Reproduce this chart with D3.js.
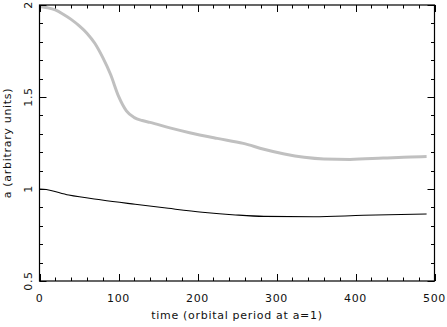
<!DOCTYPE html>
<html><head><meta charset="utf-8">
<script src="https://cdn.jsdelivr.net/npm/d3@7"></script>
<style>
html,body{margin:0;padding:0;background:#fff;}
svg{display:block;}
text{font-family:"DejaVu Sans",sans-serif;font-size:11px;fill:#111;}
.lab{letter-spacing:0.7px;}
</style></head>
<body>
<svg id="chart" width="447" height="327"></svg>
<script>
const grayTime = [0, 10, 20, 30, 40, 50, 60, 70, 80, 90, 100, 110, 120, 130, 140, 165, 190, 225, 258, 284, 310, 335, 360, 393, 435, 470, 490];
const grayA    = [1.992, 1.985, 1.973, 1.95, 1.922, 1.888, 1.847, 1.792, 1.715, 1.622, 1.505, 1.425, 1.388, 1.372, 1.362, 1.332, 1.306, 1.275, 1.248, 1.216, 1.19, 1.172, 1.163, 1.161, 1.168, 1.174, 1.176];
const blackTime = [0, 5, 37, 79, 121, 163, 206, 248, 284, 347, 410, 490];
const blackA    = [1.0, 0.999, 0.967, 0.94, 0.917, 0.895, 0.874, 0.859, 0.851, 0.849, 0.857, 0.864];
const xTicks = [0, 100, 200, 300, 400, 500];
const yTicks = [0.5, 1, 1.5, 2];
const xLabel = "time (orbital period at a=1)";
const yLabel = "a (arbitrary units)";

const svg = d3.select("#chart");
const L = 39.5, R = 434.5, T = 5, B = 281;
const x = d3.scaleLinear().domain([0, 500]).range([L, R]);
const y = d3.scaleLinear().domain([0.5, 2]).range([B, T]);

const line = d3.line().x(d => x(d[0])).y(d => y(d[1])).curve(d3.curveMonotoneX);
svg.append("path").datum(grayTime.map((t, i) => [t, grayA[i]]))
  .attr("d", line).attr("fill", "none").attr("stroke", "#c0c0c0").attr("stroke-width", 3);
svg.append("path").datum(blackTime.map((t, i) => [t, blackA[i]]))
  .attr("d", line).attr("fill", "none").attr("stroke", "#000").attr("stroke-width", 1.1);

const xMinor = d3.range(0, 501, 20);
const yMinor = d3.range(0.5, 2.001, 0.1);
const g = svg.append("g").attr("stroke", "#000").attr("stroke-width", 1);
const maj = 7, mn = 3.5;
xMinor.forEach(v => {
  const len = (v % 100 === 0) ? maj : mn;
  const px = Math.round(x(v)) + 0.5;
  g.append("line").attr("x1", px).attr("x2", px).attr("y1", B).attr("y2", B - len);
  g.append("line").attr("x1", px).attr("x2", px).attr("y1", T).attr("y2", T + len);
});
yMinor.forEach(v => {
  const isMaj = Math.abs(v * 2 - Math.round(v * 2)) < 1e-6;
  const len = isMaj ? maj : mn;
  const py = Math.round(y(v)) + 0.5;
  g.append("line").attr("x1", L).attr("x2", L + len).attr("y1", py).attr("y2", py);
  g.append("line").attr("x1", R).attr("x2", R - len).attr("y1", py).attr("y2", py);
});
svg.append("rect").attr("x", L).attr("y", T).attr("width", R - L).attr("height", B - T)
  .attr("fill", "none").attr("stroke", "#000").attr("stroke-width", 1.2);

svg.selectAll(".xt").data(xTicks).enter().append("text").attr("class", "lab")
  .attr("x", d => x(d)).attr("y", 302).attr("text-anchor", "middle").text(d => d);
svg.selectAll(".yt").data(yTicks).enter().append("text").attr("class", "lab")
  .attr("transform", d => `translate(32,${y(d)}) rotate(-90)`)
  .attr("text-anchor", "middle").text(d => d);
svg.append("text").attr("class", "lab").attr("x", (L + R) / 2).attr("y", 319).attr("text-anchor", "middle").text(xLabel);
svg.append("text").attr("class", "lab").attr("transform", `translate(11,${(T + B) / 2}) rotate(-90)`)
  .attr("text-anchor", "middle").text(yLabel);
</script>
</body></html>
